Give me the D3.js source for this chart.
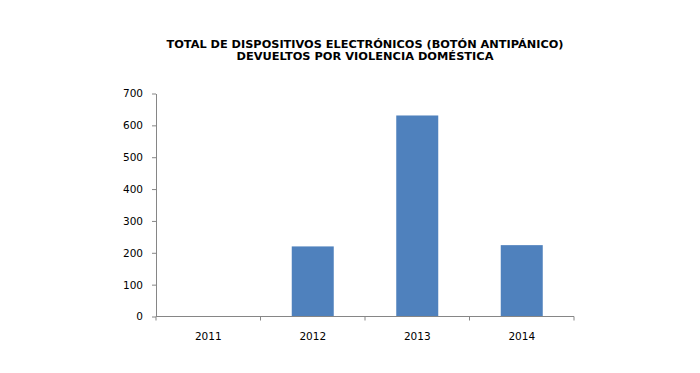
<!DOCTYPE html>
<html><head><meta charset="utf-8">
<script src="https://cdn.jsdelivr.net/npm/d3@7"></script>
<style>body{margin:0;background:#fff}svg{display:block}</style>
</head><body>
<svg id="c" width="700" height="373"></svg>
<script>
const titleLines = ["TOTAL DE DISPOSITIVOS ELECTRÓNICOS (BOTÓN ANTIPÁNICO)", "DEVUELTOS POR VIOLENCIA DOMÉSTICA"];
const categories = ["2011", "2012", "2013", "2014"];
const values = [0, 220, 631, 224];
const yTicks = [0, 100, 200, 300, 400, 500, 600, 700];

(function () {
const svg = d3.select("#c");
const pL = 156, pR = 574, pT = 93.5, pB = 316.5;
const axisColor = "#868686";

const xb = d3.scaleBand().domain(categories).range([pL, pR]);
const y = d3.scaleLinear().domain([0, 700]).range([pB, pT]);

// title
const tl = [{t: titleLines[0], y: 47.5, w: 397}, {t: titleLines[1], y: 60, w: 257}];
svg.selectAll("text.title").data(tl).enter().append("text")
  .attr("class", "title")
  .attr("x", 365).attr("y", d => d.y)
  .attr("text-anchor", "middle")
  .attr("font-family", "'DejaVu Sans', sans-serif")
  .attr("font-weight", "bold").attr("font-size", 10.3)
  .attr("textLength", d => d.w).attr("lengthAdjust", "spacingAndGlyphs")
  .attr("fill", "#000")
  .text(d => d.t);

// bars
const bw = 42;
svg.selectAll("rect.bar").data(categories).enter().append("rect")
  .attr("class", "bar")
  .attr("x", d => xb(d) + xb.bandwidth() / 2 - bw / 2)
  .attr("width", bw)
  .attr("y", (d, i) => y(values[i]))
  .attr("height", (d, i) => pB - y(values[i]))
  .attr("fill", "#4F81BD");

// y axis
const ya = svg.append("g").attr("transform", `translate(${pL},0)`)
  .call(d3.axisLeft(y).tickValues(yTicks).tickSize(4).tickPadding(9).tickSizeOuter(0));
ya.select(".domain").attr("stroke", axisColor);
ya.selectAll(".tick line").attr("stroke", axisColor);
ya.selectAll(".tick text").attr("font-family", "'DejaVu Sans', sans-serif").attr("font-size", 10.5).attr("fill", "#000");

// x axis
const xa = svg.append("g").attr("transform", `translate(0,${pB})`)
  .call(d3.axisBottom(xb).tickSize(0).tickPadding(16));
xa.select(".domain").attr("stroke", axisColor).attr("d", `M${pL},0H${pR}`);
xa.selectAll(".tick text").attr("font-family", "'DejaVu Sans', sans-serif").attr("font-size", 10.5).attr("fill", "#000");
const bounds = categories.map(c => xb(c)).concat([pR]);
xa.selectAll("line.bnd").data(bounds).enter().append("line")
  .attr("class", "bnd")
  .attr("x1", d => d).attr("x2", d => d)
  .attr("y1", 0).attr("y2", 4)
  .attr("stroke", axisColor);
})();
</script>
</body></html>
